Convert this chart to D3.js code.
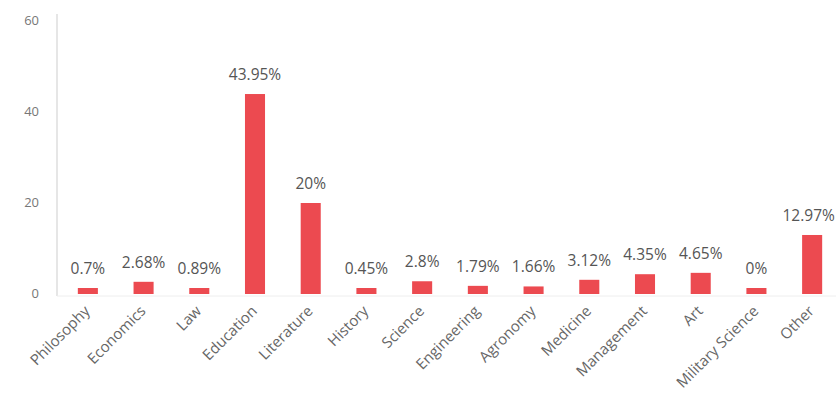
<!DOCTYPE html>
<html><head><meta charset="utf-8">
<script src="https://cdn.jsdelivr.net/npm/d3@7"></script>
<style>body{margin:0;background:#fff}svg{display:block}text{font-family:"Open Sans",sans-serif}</style>
</head><body><svg id="c" width="836" height="405"></svg>
<script>
const categories = ["Philosophy","Economics","Law","Education","Literature","History","Science","Engineering","Agronomy","Medicine","Management","Art","Military Science","Other"];
const values = [0.7,2.68,0.89,43.95,20,0.45,2.8,1.79,1.66,3.12,4.35,4.65,0,12.97];
const yTicks = [0,20,40,60];

const svg = d3.select("#c");
const x = d3.scaleBand().domain(categories).range([60,840]).paddingInner(0.64).paddingOuter(0.32);
const y = d3.scaleLinear().domain([0,60]).range([293,20]);
const minH = 6;
const W = 836;

// axis lines
svg.append("line").attr("x1",57).attr("x2",57).attr("y1",14).attr("y2",296).attr("stroke","#e6e6e6").attr("stroke-width",2);
svg.append("line").attr("x1",57).attr("x2",836).attr("y1",296).attr("y2",296).attr("stroke","#eeeeee").attr("stroke-width",1);

// y ticks
svg.append("g").selectAll("text").data(yTicks).join("text")
  .attr("x",39).attr("y",d=>y(d)).attr("dy","0.35em").attr("text-anchor","end")
  .attr("font-size",13).attr("fill","#777").text(d=>d);

const bars = categories.map((c,i)=>{
  const h = Math.max(y(0)-y(values[i]), minH);
  return {c, v:values[i], top: y(0)+1-h, h};
});

svg.append("g").selectAll("rect").data(bars).join("rect")
  .attr("x",d=>x(d.c)).attr("width",x.bandwidth())
  .attr("y",d=>d.top).attr("height",d=>d.h)
  .attr("fill","#ec4a50");

svg.append("g").selectAll("text").data(bars).join("text")
  .attr("x",d=>x(d.c)+x.bandwidth()/2).attr("y",d=>d.top-14)
  .attr("text-anchor","middle").attr("font-size",15.5).attr("fill","#555")
  .text(d=>d.v+"%")
  .each(function(){
    const b = this.getBBox();
    if (b.x + b.width > W - 1) {
      d3.select(this).attr("x", +d3.select(this).attr("x") - (b.x + b.width - (W - 1)));
    }
  });

// x labels
svg.append("g").selectAll("text").data(categories).join("text")
  .attr("transform",d=>`translate(${x(d)+x.bandwidth()/2+3},${312}) rotate(-45)`)
  .attr("text-anchor","end").attr("font-size",15).attr("fill","#666")
  .text(d=>d);
</script></body></html>
